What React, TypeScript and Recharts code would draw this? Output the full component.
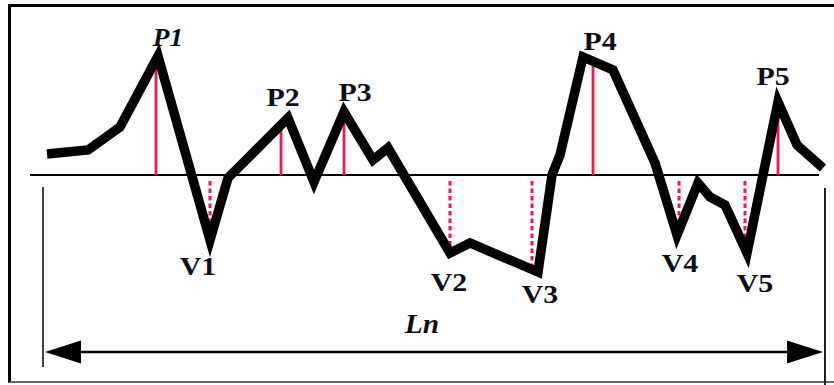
import React from 'react';
import { ComposedChart, Line, Scatter, XAxis, YAxis, ReferenceLine } from 'recharts';

// Signal trace: position along the span vs. amplitude about the reference line (0).
const tracePos = [47, 88, 120, 158, 210, 228, 288, 314, 344, 373, 388, 450, 470, 538, 552, 560, 583, 613, 655, 677, 698, 710, 725, 747, 778, 797, 823];
const traceAmp = [21, 25, 48, 119, -65, -3, 57, -7, 63, 15, 27, -78, -68, -97, 0, 20, 118, 105, 12, -60, -8, -22, -30, -78, 73, 30, 7];

// Peak markers (solid) and valley markers (dotted)
const peakNames = ['P1', 'P2', 'P3', 'P4', 'P5'];
const peakPos = [156, 281, 344, 593, 778];
const peakAmp = [117, 50, 60, 114, 71];

const valleyNames = ['V1', 'V2', 'V3', 'V4', 'V5'];
const valleyPos = [210, 450, 532, 679, 745];
const valleyAmp = [-65, -72, -93, -57, -77];

// Label anchor points
const peakLabelPos = [168, 283, 355, 600, 773];
const peakLabelAmp = [129, 69, 74, 125, 90];
const valleyLabelPos = [198, 449, 540, 680, 755];
const valleyLabelAmp = [-100, -116, -128, -97, -117];

// Overall span Ln
const spanLabel = 'Ln';
const spanStart = 45;
const spanEnd = 823;
const spanLevel = -177;
const spanLabelPos = 422;
const spanLabelAmp = -158;
const extentTop = -12;
const extentBottom = -210;

const traceData = tracePos.map((x, i) => ({ x, y: traceAmp[i] }));

const labelData = [
  ...peakNames.map((t, i) => ({ x: peakLabelPos[i], y: peakLabelAmp[i], text: t, italic: i === 0 })),
  ...valleyNames.map((t, i) => ({ x: valleyLabelPos[i], y: valleyLabelAmp[i], text: t, italic: false })),
  { x: spanLabelPos, y: spanLabelAmp, text: spanLabel, italic: true, big: true },
];

const arrowData = [
  { x: spanStart, y: spanLevel, dir: -1 },
  { x: spanEnd, y: spanLevel, dir: 1 },
];

const RED = '#f3174f';
const INK = '#0e0e18';

const LabelShape = (props: any) => {
  const { cx, cy, payload } = props;
  const sx = payload.italic ? 1.05 : 1.15;
  return (
    <text
      transform={`translate(${cx},${cy}) scale(${sx},1)`}
      x={0}
      y={0}
      textAnchor="middle"
      style={{
        fontFamily: 'Liberation Serif, Times New Roman, serif',
        fontWeight: 700,
        fontStyle: payload.italic ? 'italic' : 'normal',
        fontSize: payload.big ? 28 : 26,
      }}
      fill={INK}
    >
      {payload.text}
    </text>
  );
};

const ArrowHead = (props: any) => {
  const { cx, cy, payload } = props;
  const d = payload.dir;
  const back = cx - d * 36;
  return <polygon points={`${cx},${cy} ${back},${cy - 11.5} ${back},${cy + 11.5}`} fill="#000" />;
};

export default function App() {
  return (
    <div style={{ position: 'absolute', left: 0, top: 0, width: 834, height: 385, background: '#fff', overflow: 'hidden' }}>
      <div
        style={{
          position: 'absolute',
          left: 8,
          top: 4,
          width: 826,
          height: 379,
          boxSizing: 'border-box',
          borderTop: '3px solid #000',
          borderLeft: '3px solid #000',
          borderBottom: '2px solid #6a6a6a',
        }}
      />
      <div style={{ position: 'absolute', left: 0, top: 0 }}>
        <ComposedChart width={834} height={385} margin={{ top: 0, right: 0, bottom: 0, left: 0 }}>
          <XAxis type="number" dataKey="x" domain={[0, 834]} hide allowDataOverflow />
          <YAxis type="number" dataKey="y" domain={[-210, 175]} hide allowDataOverflow />

          <ReferenceLine segment={[{ x: 30, y: 0 }, { x: 819, y: 0 }]} stroke="#000" strokeWidth={2} />
          <ReferenceLine segment={[{ x: spanStart - 2, y: extentTop }, { x: spanStart - 2, y: extentBottom + 18 }]} stroke="#444" strokeWidth={2} />
          <ReferenceLine segment={[{ x: spanEnd + 2, y: extentTop - 1 }, { x: spanEnd + 2, y: extentBottom }]} stroke="#222" strokeWidth={2} />
          <ReferenceLine segment={[{ x: spanStart + 20, y: spanLevel }, { x: spanEnd - 20, y: spanLevel }]} stroke="#000" strokeWidth={2.5} />

          {peakPos.map((x, i) => (
            <Line
              key={`p${i}`}
              data={[{ x, y: 0 }, { x, y: peakAmp[i] }]}
              dataKey="y"
              stroke={RED}
              strokeWidth={2.8}
              dot={false}
              activeDot={false}
              isAnimationActive={false}
            />
          ))}
          {valleyPos.map((x, i) => (
            <Line
              key={`v${i}`}
              data={[{ x, y: -6 }, { x, y: valleyAmp[i] }]}
              dataKey="y"
              stroke={RED}
              strokeWidth={3}
              strokeDasharray="4.5 3"
              dot={false}
              activeDot={false}
              isAnimationActive={false}
            />
          ))}

          <Line
            data={traceData}
            dataKey="y"
            type="linear"
            stroke="#000"
            strokeWidth={9.5}
            dot={false}
            activeDot={false}
            isAnimationActive={false}
          />

          <Scatter data={arrowData} shape={ArrowHead} isAnimationActive={false} />
          <Scatter data={labelData} shape={LabelShape} isAnimationActive={false} />
        </ComposedChart>
      </div>
    </div>
  );
}
